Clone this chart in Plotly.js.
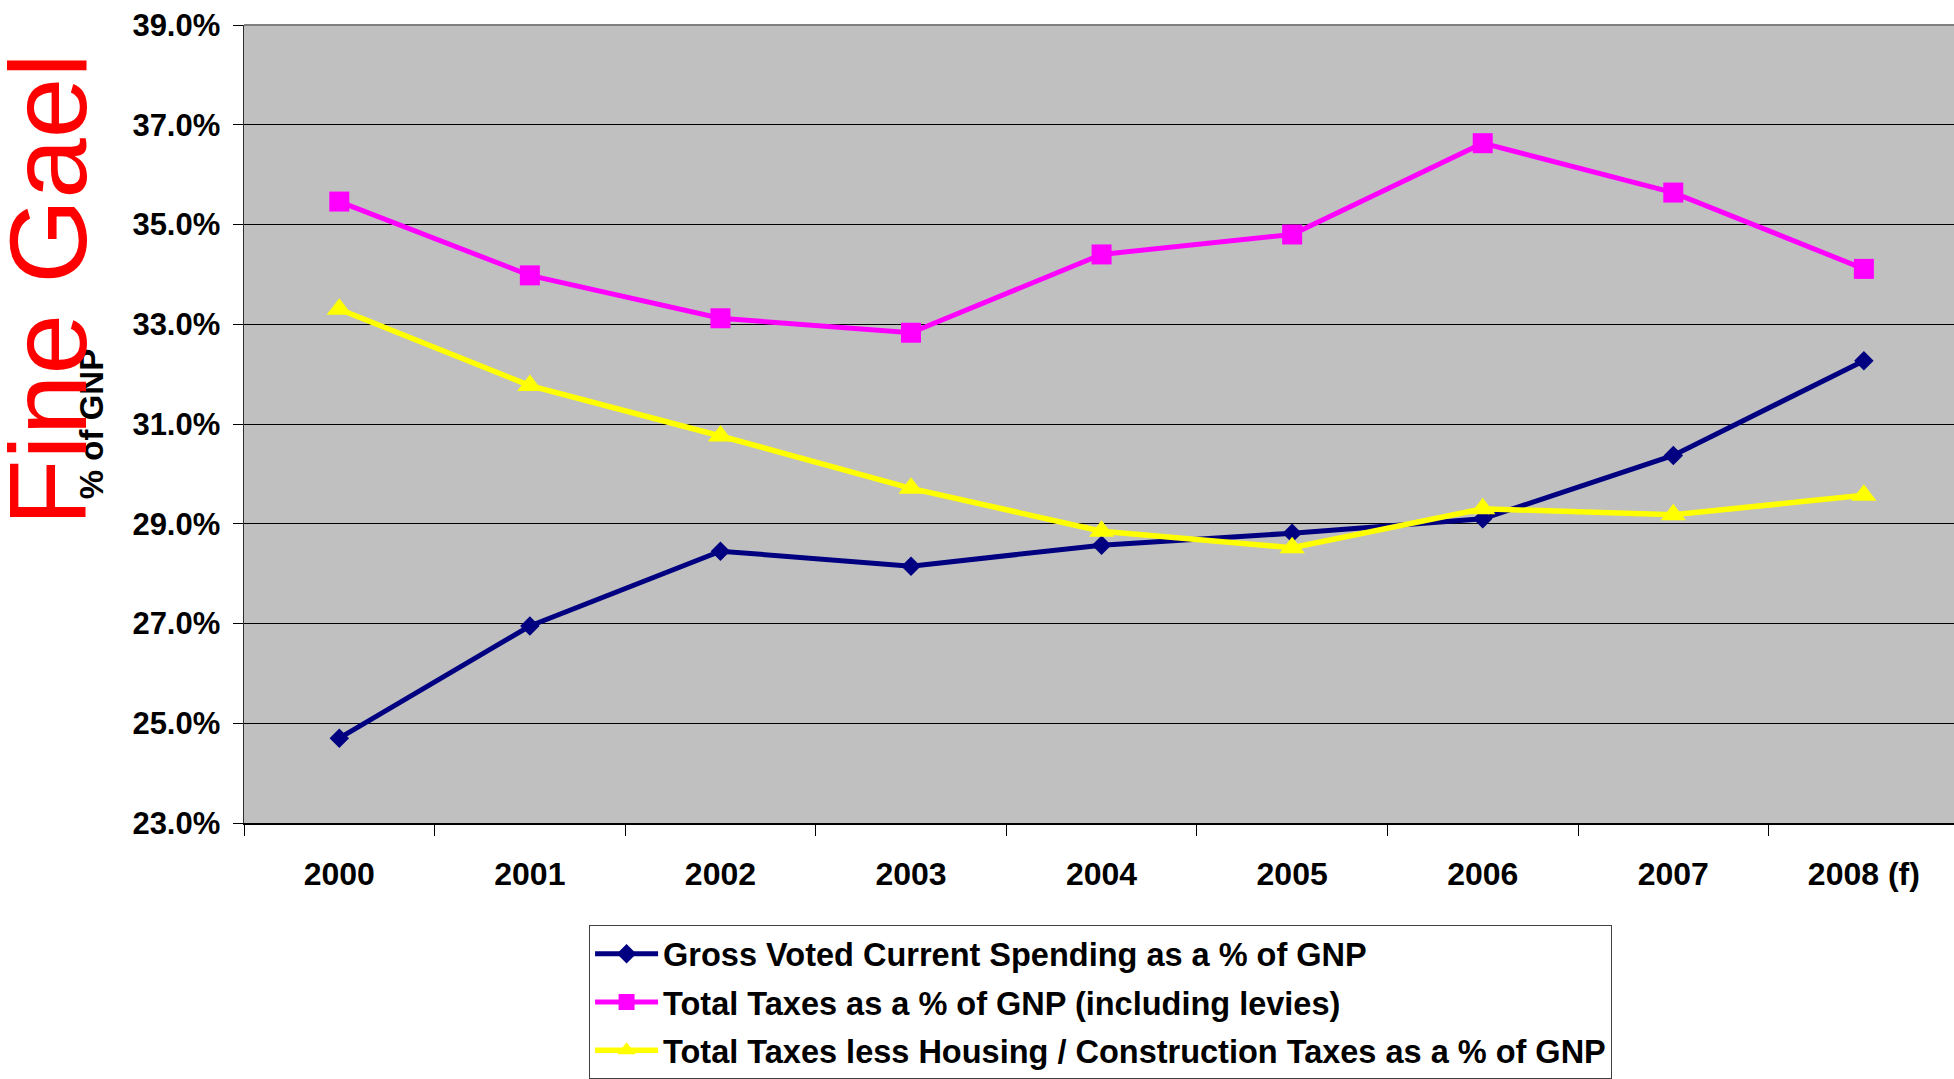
<!DOCTYPE html>
<html>
<head>
<meta charset="utf-8">
<script src="https://cdn.plot.ly/plotly-3.0.1.min.js"></script>
<style>html,body{margin:0;padding:0;background:#fff;}#chart{width:1954px;height:1079px;}</style>
</head>
<body>
<div id="chart"></div>
<script>
const years = ["2000", "2001", "2002", "2003", "2004", "2005", "2006", "2007", "2008 (f)"];
const spendingName = "Gross Voted Current Spending as a % of GNP";
const spending = [24.7, 26.95, 28.45, 28.15, 28.57, 28.81, 29.1, 30.37, 32.27];
const taxesName = "Total Taxes as a % of GNP (including levies)";
const taxes = [35.46, 33.98, 33.12, 32.83, 34.4, 34.8, 36.63, 35.64, 34.11];
const taxesLessName = "Total Taxes less Housing / Construction Taxes as a % of GNP";
const taxesLess = [33.3, 31.77, 30.76, 29.71, 28.85, 28.52, 29.3, 29.18, 29.57];
const yTicks = [23, 25, 27, 29, 31, 33, 35, 37, 39];

const FONT = "Liberation Sans, Arial, sans-serif";

const traces = [
  {x: years, y: spending, name: spendingName, type: "scatter", mode: "lines+markers",
   legendgroup: "a",
   line: {color: "#000080", width: 5},
   marker: {symbol: "diamond", size: 15, color: "#000080"}},
  {x: years, y: taxes, name: taxesName, type: "scatter", mode: "lines+markers",
   legendgroup: "b",
   line: {color: "#FF00FF", width: 5},
   marker: {symbol: "square", size: 20, color: "#FF00FF"}},
  {x: years, y: taxesLess, name: taxesLessName, type: "scatter", mode: "lines+markers",
   legendgroup: "c",
   line: {color: "#FFFF00", width: 5.5},
   marker: {symbol: "triangle-up", size: 22, color: "#FFFF00"}}
];

const layout = {
  width: 1954, height: 1079,
  margin: {l: 244, r: 0, t: 25, b: 256, pad: 0, autoexpand: false},
  paper_bgcolor: "#FFFFFF",
  plot_bgcolor: "#C0C0C0",
  font: {family: FONT, color: "#000000", size: 30, weight: "bold"},
  showlegend: true,
  xaxis: {
    type: "category",
    categoryorder: "array", categoryarray: years,
    range: [-0.5, 8.473],
    showgrid: false, zeroline: false,
    showline: true, linecolor: "#000000", linewidth: 2,
    ticks: "outside", tickson: "boundaries", ticklen: 11, tickcolor: "#000000", tickwidth: 1,
    ticklabelstandoff: 22,
    tickfont: {family: FONT, size: 32, weight: "bold", color: "#000000"}
  },
  yaxis: {
    range: [23, 39],
    tickvals: yTicks,
    ticktext: yTicks.map(v => v.toFixed(1) + "%"),
    showgrid: true, gridcolor: "#000000", gridwidth: 1,
    zeroline: false,
    showline: true, linecolor: "#303030", linewidth: 1.5,
    ticks: "outside", ticklen: 10, tickcolor: "#000000", tickwidth: 1,
    ticklabelstandoff: 6,
    tickfont: {family: FONT, size: 31, weight: "bold", color: "#000000"},
    title: {text: "% of GNP", standoff: 19, font: {family: FONT, size: 33, weight: "bold", color: "#000000"}}
  },
  legend: {
    x: 0.2018, y: -0.128, xanchor: "left", yanchor: "top",
    bgcolor: "#FFFFFF", bordercolor: "#404040", borderwidth: 1,
    traceorder: "grouped", tracegroupgap: 3,
    itemwidth: 63,
    font: {family: FONT, size: 32.5, weight: "bold", color: "#000000"}
  },
  shapes: [
    {type: "line", xref: "paper", yref: "paper", x0: 0, x1: 1, y0: 1, y1: 1,
     line: {color: "#808080", width: 2}}
  ],
  annotations: [
    {text: "Fine Gael", xref: "paper", yref: "paper", x: -0.1146, y: 0.668,
     xanchor: "center", yanchor: "middle", textangle: -90, showarrow: false,
     font: {family: FONT, size: 109, color: "#FF0000", weight: "normal"}},
    {text: "10", xref: "paper", yref: "paper", x: 0.9345, y: -0.316,
     xanchor: "center", yanchor: "top", showarrow: false,
     font: {family: FONT, size: 28, color: "#000000", weight: "bold"}}
  ]
};

Plotly.newPlot("chart", traces, layout, {displayModeBar: false, staticPlot: true});
</script>
</body>
</html>
